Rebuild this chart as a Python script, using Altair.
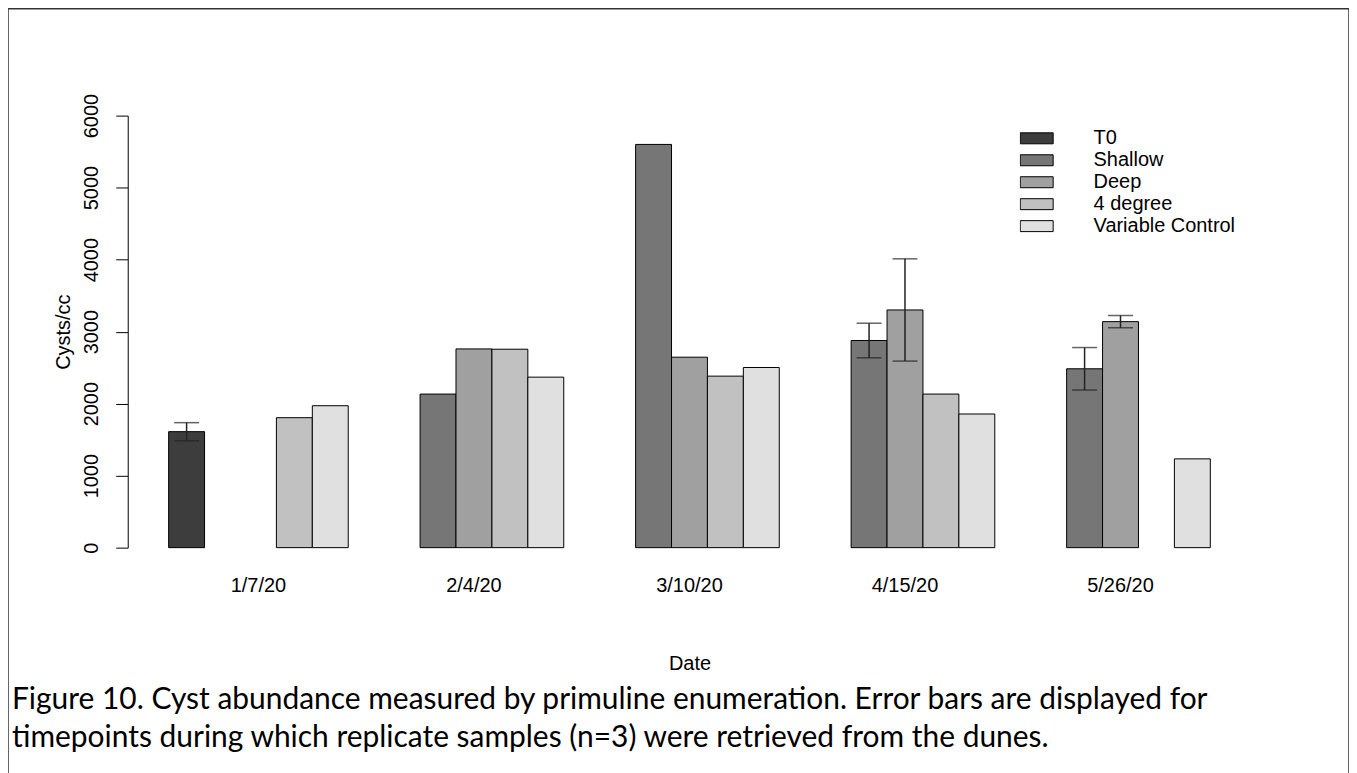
import altair as alt
import pandas as pd

dates = ["1/7/20", "2/4/20", "3/10/20", "4/15/20", "5/26/20"]
series = ["T0", "Shallow", "Deep", "4 degree", "Variable Control"]
colors = ["#3d3d3d", "#767676", "#a0a0a0", "#c1c1c1", "#e0e0e0"]

t0 = [1611, None, None, None, None]
shallow = [None, 2133, 5600, 2877, 2484]
deep = [None, 2760, 2645, 3301, 3139]
four_degree = [1805, 2756, 2382, 2133, None]
variable_control = [1971, 2368, 2502, 1856, 1233]

t0_err = [125, None, None, None, None]
shallow_err = [None, None, None, 240, 295]
deep_err = [None, None, None, 710, 85]

y_ticks = [0, 1000, 2000, 3000, 4000, 5000, 6000]

caption = [
    "Figure 10. Cyst abundance measured by primuline enumeration. Error bars are displayed for",
    "timepoints during which replicate samples (n=3) were retrieved from the dunes.",
]

values = [t0, shallow, deep, four_degree, variable_control]
errors = [t0_err, shallow_err, deep_err, [None] * 5, [None] * 5]
rows = []
for s, vals, errs in zip(series, values, errors):
    for d, v, e in zip(dates, vals, errs):
        if v is None:
            continue
        rows.append({
            "Date": d, "Series": s, "Value": v,
            "lo": v - e if e is not None else None,
            "hi": v + e if e is not None else None,
        })
df = pd.DataFrame(rows)
err_df = df.dropna(subset=["lo"])

FONT = "Liberation Sans"
FS = 20
W, H = 1344, 770

x_enc = alt.X(
    "Date:N",
    sort=dates,
    scale=alt.Scale(domain=dates, range=[161, 1205], paddingInner=1 / 6, paddingOuter=0),
    axis=alt.Axis(
        title="Date", orient="bottom", offset=-230, domain=False, ticks=False,
        labelAngle=0, labelFont=FONT, labelFontSize=FS, labelColor="black",
        labelPadding=28, titleFont=FONT, titleFontSize=FS, titleFontWeight="normal",
        titleColor="black", titlePadding=58,
    ),
)
xoff = alt.XOffset("Series:N", sort=series, scale=alt.Scale(domain=series, paddingInner=0, paddingOuter=0))
y_scale = alt.Scale(domain=[0, 6000], range=[540, 107], nice=False, zero=True)

bars = alt.Chart(df).mark_bar(stroke="black", strokeWidth=1, opacity=1).encode(
    x=x_enc,
    xOffset=xoff,
    y=alt.Y(
        "Value:Q",
        scale=y_scale,
        axis=alt.Axis(
            title="Cysts/cc", orient="left", offset=-120, values=y_ticks, grid=False,
            format="d", labelAngle=270, labelFont=FONT, labelFontSize=FS, labelColor="black",
            labelPadding=14, tickSize=12, tickColor="black", domainColor="black",
            tickWidth=1, domainWidth=1, titleFont=FONT, titleFontSize=FS,
            titleFontWeight="normal", titleColor="black", titlePadding=8,
        ),
    ),
    color=alt.Color(
        "Series:N",
        sort=series,
        scale=alt.Scale(domain=series, range=colors),
        legend=alt.Legend(
            title=None, orient="none", legendX=1014, legendY=119,
            symbolType="M-1,-0.333H1V0.333H-1Z", symbolSize=1089,
            symbolStrokeColor="black", symbolStrokeWidth=1, symbolOpacity=1,
            labelFont=FONT, labelFontSize=FS, labelColor="black", labelOffset=40,
            clipHeight=21.5, rowPadding=0, padding=0,
        ),
    ),
)

err_rule = alt.Chart(err_df).mark_rule(color="#222222", strokeWidth=1.5).encode(
    x=alt.X("Date:N", sort=dates),
    xOffset=alt.XOffset("Series:N", sort=series),
    y=alt.Y("lo:Q", scale=y_scale),
    y2="hi:Q",
)
cap_lo = alt.Chart(err_df).mark_tick(color="#222222", thickness=1.5, size=25, orient="horizontal").encode(
    x=alt.X("Date:N", sort=dates),
    xOffset=alt.XOffset("Series:N", sort=series),
    y=alt.Y("lo:Q", scale=y_scale),
)
cap_hi = alt.Chart(err_df).mark_tick(color="#222222", thickness=1.5, size=25, orient="horizontal").encode(
    x=alt.X("Date:N", sort=dates),
    xOffset=alt.XOffset("Series:N", sort=series),
    y=alt.Y("hi:Q", scale=y_scale),
)

chart = alt.layer(bars, err_rule, cap_lo, cap_hi).properties(
    width=W,
    height=H,
    padding=0,
    background="white",
    title=alt.TitleParams(
        text=caption, orient="bottom", anchor="start", offset=-68, dx=4,
        font="Lato", fontSize=30, fontWeight="normal", color="black",
        lineHeight=38, baseline="alphabetic",
    ),
).configure_view(stroke="#333333", strokeWidth=1.5).configure_axis(grid=False)

chart.save("out.html", embed_options={"renderer": "svg", "actions": False})
